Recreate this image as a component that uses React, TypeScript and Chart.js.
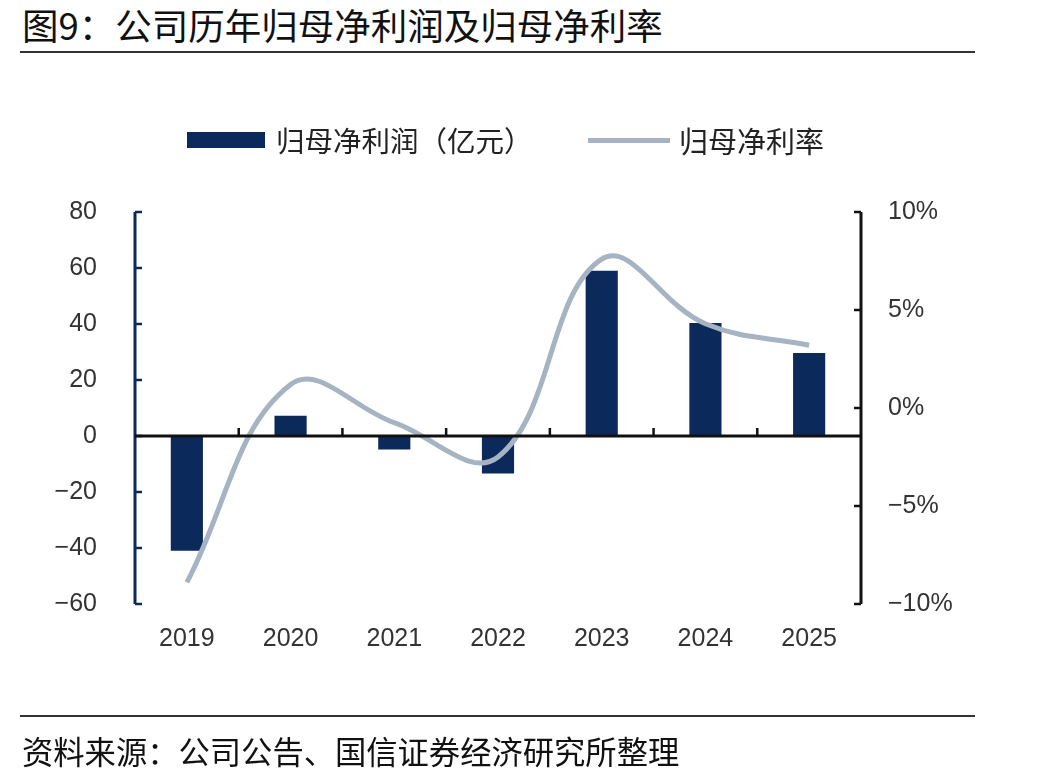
import React, { useEffect, useRef } from "react";
import { Chart, registerables } from "chart.js";

Chart.register(...registerables);

// Fiscal years shown on the category axis
const years = ["2019", "2020", "2021", "2022", "2023", "2024", "2025"];
// Net profit attributable to parent (100 million CNY)
const netProfit = [-41, 7.2, -4.8, -13.4, 59.0, 40.4, 29.6];
// Net profit margin attributable to parent (%)
const netMargin = [-8.9, 1.2, -0.75, -2.5, 7.6, 4.3, 3.2];
// Axis tick values
const leftTicks = [80, 60, 40, 20, 0, -20, -40, -60];
const rightTicks = [10, 5, 0, -5, -10];

const NAVY = "#0b2a5b";
const GREY_LINE = "#a6b3c2";
const LABEL = "#333333";
const NUM_FONT = "'Liberation Sans', Arial, sans-serif";
const CJK_FONT = "'Noto Sans CJK SC', 'Noto Sans', sans-serif";

const fmtMinus = (v: number) => (v < 0 ? "\u2212" + Math.abs(v) : String(v));

// Axis lines, inward tick marks and the zero baseline
const axisDecor = {
  id: "axisDecor",
  afterDatasetsDraw(chart: any) {
    const { ctx, chartArea, scales } = chart;
    const yL = scales.y;
    const yR = scales.y1;
    const x = scales.x;
    ctx.save();
    ctx.lineCap = "butt";

    // left axis (navy) with ticks pointing right
    ctx.strokeStyle = NAVY;
    ctx.lineWidth = 3;
    ctx.beginPath();
    ctx.moveTo(chartArea.left, yL.getPixelForValue(80));
    ctx.lineTo(chartArea.left, yL.getPixelForValue(-60));
    ctx.stroke();
    ctx.lineWidth = 2.5;
    leftTicks.forEach((v) => {
      const py = yL.getPixelForValue(v);
      ctx.beginPath();
      ctx.moveTo(chartArea.left, py);
      ctx.lineTo(chartArea.left + 7, py);
      ctx.stroke();
    });

    // right axis (black) with ticks pointing left
    ctx.strokeStyle = "#111111";
    ctx.lineWidth = 3;
    ctx.beginPath();
    ctx.moveTo(chartArea.right, yR.getPixelForValue(10));
    ctx.lineTo(chartArea.right, yR.getPixelForValue(-10));
    ctx.stroke();
    ctx.lineWidth = 2.5;
    rightTicks.forEach((v) => {
      const py = yR.getPixelForValue(v);
      ctx.beginPath();
      ctx.moveTo(chartArea.right, py);
      ctx.lineTo(chartArea.right - 7, py);
      ctx.stroke();
    });

    // zero baseline with category separators pointing up
    const y0 = yL.getPixelForValue(0);
    ctx.lineWidth = 3;
    ctx.beginPath();
    ctx.moveTo(chartArea.left, y0);
    ctx.lineTo(chartArea.right, y0);
    ctx.stroke();
    ctx.lineWidth = 2.5;
    for (let i = 1; i < years.length; i++) {
      const px = (x.getPixelForValue(i - 1) + x.getPixelForValue(i)) / 2;
      ctx.beginPath();
      ctx.moveTo(px, y0);
      ctx.lineTo(px, y0 - 8);
      ctx.stroke();
    }
    ctx.restore();
  },
};

function ProfitChart() {
  const ref = useRef<HTMLCanvasElement | null>(null);

  useEffect(() => {
    if (!ref.current) return;
    const chart = new Chart(ref.current, {
      type: "bar",
      data: {
        labels: years,
        datasets: [
          {
            type: "line",
            label: "归母净利率",
            data: netMargin,
            yAxisID: "y1",
            borderColor: GREY_LINE,
            borderWidth: 5,
            pointRadius: 0,
            tension: 0.4,
            fill: false,
            order: 0,
          } as any,
          {
            type: "bar",
            label: "归母净利润（亿元）",
            data: netProfit,
            yAxisID: "y",
            backgroundColor: NAVY,
            barPercentage: 0.31,
            categoryPercentage: 1,
            order: 1,
          },
        ],
      },
      options: {
        animation: false,
        responsive: false,
        maintainAspectRatio: false,
        layout: { padding: { top: 212, left: 0, right: 0, bottom: 0 } },
        plugins: {
          legend: { display: false },
          tooltip: { enabled: false },
        },
        scales: {
          x: {
            offset: true,
            grid: { display: false, drawTicks: false },
            border: { display: false },
            ticks: {
              color: LABEL,
              font: { family: NUM_FONT, size: 25 },
              padding: 20,
              maxRotation: 0,
            },
            afterFit: (s: any) => {
              s.height = 783 - 604;
            },
          },
          y: {
            position: "left",
            min: -60,
            max: 80,
            grid: { display: false, drawTicks: false },
            border: { display: false },
            ticks: {
              stepSize: 20,
              color: LABEL,
              font: { family: NUM_FONT, size: 25 },
              padding: 38,
              callback: (v: any) => fmtMinus(Number(v)),
            },
            afterFit: (s: any) => {
              s.width = 135;
            },
          },
          y1: {
            position: "right",
            min: -10,
            max: 10,
            grid: { display: false, drawTicks: false },
            border: { display: false },
            ticks: {
              stepSize: 5,
              color: LABEL,
              font: { family: NUM_FONT, size: 25 },
              padding: 27,
              callback: (v: any) => fmtMinus(Number(v)) + "%",
            },
            afterFit: (s: any) => {
              s.width = 1047 - 861;
            },
          },
        },
      },
      plugins: [axisDecor],
    });
    return () => chart.destroy();
  }, []);

  return (
    <canvas
      ref={ref}
      width={1047}
      height={783}
      style={{ position: "absolute", left: 0, top: 0, width: 1047, height: 783 }}
    />
  );
}

export default function App() {
  return (
    <div
      style={{
        position: "absolute",
        left: 0,
        top: 0,
        width: 1047,
        height: 783,
        background: "#ffffff",
        overflow: "hidden",
        fontFamily: CJK_FONT,
      }}
    >
      <div
        style={{
          position: "absolute",
          left: 22,
          top: 5,
          fontSize: 36.5,
          lineHeight: "40px",
          color: "#111111",
          whiteSpace: "nowrap",
        }}
      >
        图9：公司历年归母净利润及归母净利率
      </div>
      <div style={{ position: "absolute", left: 20, top: 51, width: 955, height: 2, background: "#333333" }} />

      <ProfitChart />

      {/* legend */}
      <div style={{ position: "absolute", left: 187, top: 132, width: 78, height: 16, background: NAVY }} />
      <div
        style={{
          position: "absolute",
          left: 276,
          top: 122,
          fontSize: 28.5,
          lineHeight: "36px",
          color: "#222222",
          whiteSpace: "nowrap",
        }}
      >
        归母净利润（亿元）
      </div>
      <div style={{ position: "absolute", left: 588, top: 138, width: 82, height: 5, background: GREY_LINE }} />
      <div
        style={{
          position: "absolute",
          left: 679,
          top: 122,
          fontSize: 29,
          lineHeight: "36px",
          color: "#222222",
          whiteSpace: "nowrap",
        }}
      >
        归母净利率
      </div>

      <div style={{ position: "absolute", left: 20, top: 715, width: 955, height: 2, background: "#333333" }} />
      <div
        style={{
          position: "absolute",
          left: 22,
          top: 733,
          fontSize: 31.3,
          lineHeight: "36px",
          color: "#111111",
          whiteSpace: "nowrap",
        }}
      >
        资料来源：公司公告、国信证券经济研究所整理
      </div>
    </div>
  );
}
